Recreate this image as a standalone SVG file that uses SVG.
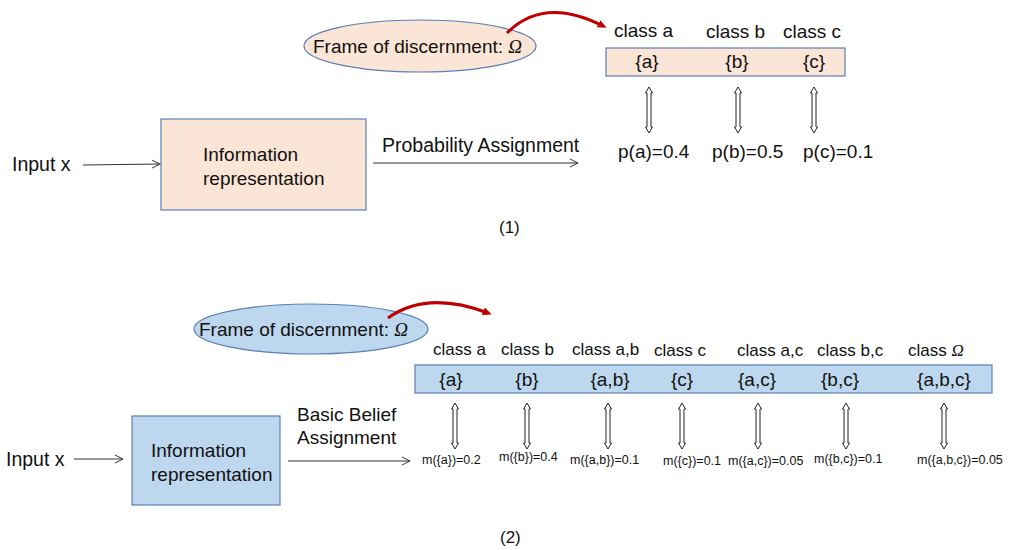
<svg xmlns="http://www.w3.org/2000/svg" width="1010" height="550" viewBox="0 0 1010 550">
<style>
text{font-family:"Liberation Sans",Arial,sans-serif;fill:#111;}
.t19{font-size:19px;}
.t17{font-size:17px;}
.t12{font-size:12.5px;}
.mid{text-anchor:middle;}
.it{font-style:italic;font-family:"Liberation Serif","Times New Roman",serif;}
.peach{fill:#fbe5d6;stroke:#5b7fb5;stroke-width:1.2;}
.blue{fill:#bdd7ee;stroke:#5b7fb5;stroke-width:1.2;}
.line{fill:none;stroke:#333;stroke-width:1;}
.red{fill:none;stroke:#c00000;stroke-width:3;}
.dbl{fill:#fff;stroke:#222;stroke-width:1;}
</style>
<defs>
<marker id="open" markerWidth="10" markerHeight="10" refX="9" refY="5" orient="auto" markerUnits="userSpaceOnUse">
<path d="M1,1 L9,5 L1,9" fill="none" stroke="#333" stroke-width="1"/>
</marker>
<marker id="redhead" markerWidth="10" markerHeight="10" refX="5" refY="5" orient="auto" markerUnits="userSpaceOnUse">
<path d="M0,1 L9,5 L0,9 Z" fill="#c00000"/>
</marker>
<path id="darrow" d="M0,0 L3.5,6 L2,6 L2,40 L3.5,40 L0,46 L-3.5,40 L-2,40 L-2,6 L-3.5,6 Z"/>
</defs>

<!-- Part (1) -->
<g id="frame1">
<ellipse class="peach" cx="420" cy="46" rx="116" ry="26"/>
<text class="t19" x="313" y="53">Frame of discernment: <tspan class="it">Ω</tspan></text>
</g>
<g id="classes1">
<text class="t19" x="614" y="37">class a</text>
<text class="t19" x="706" y="38">class b</text>
<text class="t19" x="783" y="38">class c</text>
<rect class="peach" x="606" y="48" width="239" height="28"/>
<text class="t19 mid" x="647" y="68">{a}</text>
<text class="t19 mid" x="737" y="68">{b}</text>
<text class="t19 mid" x="814" y="68">{c}</text>
</g>
<g id="probs1">
<text class="t19" x="618" y="158">p(a)=0.4</text>
<text class="t19" x="712" y="158">p(b)=0.5</text>
<text class="t19" x="803" y="158">p(c)=0.1</text>
</g>
<g id="info1">
<rect class="peach" x="161" y="119" width="205" height="91"/>
<text class="t19" x="203" y="161">Information</text>
<text class="t19" x="203" y="185">representation</text>
</g>
<g id="input1"><text class="t19" x="12" y="171" style="font-size:19.5px">Input x</text></g>
<g id="label1"><text class="t19" x="382" y="152" style="font-size:19.5px">Probability Assignment</text></g>
<g id="caption1"><text class="t17" x="499" y="233">(1)</text></g>

<!-- Part (2) -->
<g id="frame2">
<ellipse class="blue" cx="311" cy="329" rx="117" ry="25"/>
<text class="t19" x="199" y="336">Frame of discernment: <tspan class="it">Ω</tspan></text>
</g>
<g id="classes2">
<text class="t17" x="433" y="355">class a</text>
<text class="t17" x="501" y="355">class b</text>
<text class="t17" x="572" y="355">class a,b</text>
<text class="t17" x="654" y="356">class c</text>
<text class="t17" x="737" y="356">class a,c</text>
<text class="t17" x="817" y="356">class b,c</text>
<text class="t17" x="908" y="356">class <tspan class="it">Ω</tspan></text>
<rect class="blue" x="415" y="365" width="577" height="28"/>
<text class="t19 mid" x="451" y="386">{a}</text>
<text class="t19 mid" x="527" y="386">{b}</text>
<text class="t19 mid" x="610" y="386">{a,b}</text>
<text class="t19 mid" x="682" y="386">{c}</text>
<text class="t19 mid" x="757" y="386">{a,c}</text>
<text class="t19 mid" x="840" y="386">{b,c}</text>
<text class="t19 mid" x="944" y="386">{a,b,c}</text>
</g>
<g id="masses2">
<text class="t12" x="422" y="464">m({a})=0.2</text>
<text class="t12" x="499" y="461">m({b})=0.4</text>
<text class="t12" x="570" y="464">m({a,b})=0.1</text>
<text class="t12" x="663" y="465">m({c})=0.1</text>
<text class="t12" x="728" y="465">m({a,c})=0.05</text>
<text class="t12" x="814" y="463">m({b,c})=0.1</text>
<text class="t12" x="917" y="464">m({a,b,c})=0.05</text>
</g>
<g id="info2">
<rect class="blue" x="132" y="416" width="148" height="89"/>
<text class="t19" x="151" y="457">Information</text>
<text class="t19" x="151" y="481">representation</text>
</g>
<g id="input2"><text class="t19" x="6" y="466" style="font-size:19.5px">Input x</text></g>
<g id="label2">
<text class="t19" x="297" y="421">Basic Belief</text>
<text class="t19" x="297" y="444">Assignment</text>
</g>
<g id="caption2"><text class="t17" x="500" y="543">(2)</text></g>

<g id="connectors">
<path class="red" d="M507,33 Q544,-4 603,26" marker-end="url(#redhead)"/>
<path class="red" d="M388,318 Q427,290 488,313" marker-end="url(#redhead)"/>
<line class="line" x1="83" y1="165" x2="160" y2="164" marker-end="url(#open)"/>
<line class="line" x1="373" y1="163" x2="578" y2="163" marker-end="url(#open)"/>
<line class="line" x1="74" y1="459" x2="123" y2="459" marker-end="url(#open)"/>
<line class="line" x1="288" y1="461" x2="410" y2="461" marker-end="url(#open)"/>
<use href="#darrow" class="dbl" x="649" y="87"/>
<use href="#darrow" class="dbl" x="738" y="87"/>
<use href="#darrow" class="dbl" x="814" y="87"/>
<use href="#darrow" class="dbl" x="455" y="403"/>
<use href="#darrow" class="dbl" x="527" y="403"/>
<use href="#darrow" class="dbl" x="608" y="403"/>
<use href="#darrow" class="dbl" x="682" y="403"/>
<use href="#darrow" class="dbl" x="758" y="403"/>
<use href="#darrow" class="dbl" x="846" y="403"/>
<use href="#darrow" class="dbl" x="944" y="403"/>
</g>
</svg>
